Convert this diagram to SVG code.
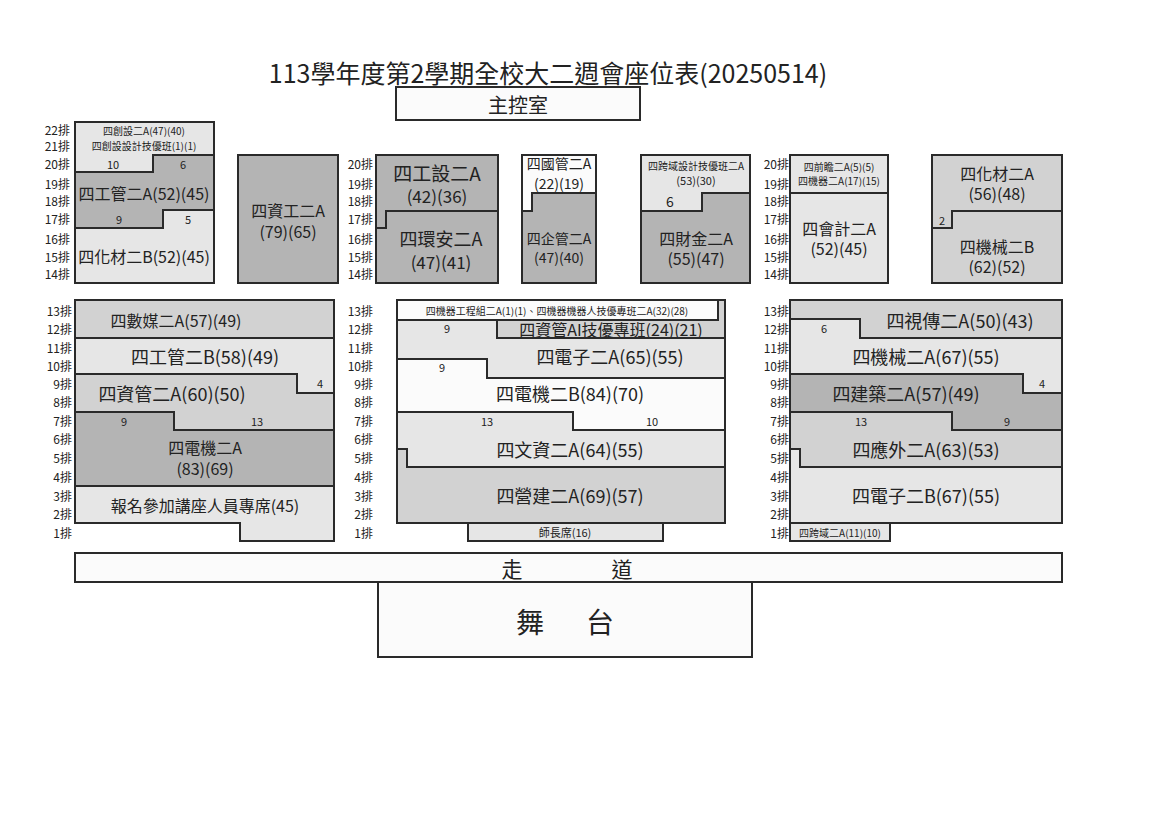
<svg xmlns="http://www.w3.org/2000/svg" width="1160" height="820" viewBox="0 0 1160 820">
<style>
text{font-family:"Noto Sans CJK TC","Noto Sans CJK SC",sans-serif;fill:#222;text-anchor:middle;dominant-baseline:central}
.s{stroke:#2a2a2a;stroke-width:2;stroke-linejoin:miter}
.r{font-size:12px;text-anchor:end}
.b{font-size:16px}
.m{font-size:14px}
.t{font-size:10px}
.n{font-size:11px}
.w{fill:#fbfbfb}.l{fill:#e6e6e6}.g{fill:#d2d2d2}.d{fill:#b4b4b4}
</style>
<rect width="1160" height="820" fill="#fff"/>
<text x="548" y="72" style="font-size:25px">113學年度第2學期全校大二週會座位表(20250514)</text>
<g id="control"><rect x="396" y="87" width="244" height="33" class="s w"/><text x="518" y="104" style="font-size:20px">主控室</text></g>

<g id="rowlabels">
<text class="r" x="70" y="129">22排</text><text class="r" x="70" y="145">21排</text><text class="r" x="70" y="163">20排</text><text class="r" x="70" y="183">19排</text><text class="r" x="70" y="200">18排</text><text class="r" x="70" y="218">17排</text><text class="r" x="70" y="238">16排</text><text class="r" x="70" y="256">15排</text><text class="r" x="70" y="273">14排</text>
<text class="r" x="373" y="163">20排</text><text class="r" x="373" y="183">19排</text><text class="r" x="373" y="200">18排</text><text class="r" x="373" y="218">17排</text><text class="r" x="373" y="238">16排</text><text class="r" x="373" y="256">15排</text><text class="r" x="373" y="273">14排</text>
<text class="r" x="789" y="163">20排</text><text class="r" x="789" y="183">19排</text><text class="r" x="789" y="200">18排</text><text class="r" x="789" y="218">17排</text><text class="r" x="789" y="238">16排</text><text class="r" x="789" y="256">15排</text><text class="r" x="789" y="273">14排</text>
<text class="r" x="72" y="310">13排</text><text class="r" x="72" y="328">12排</text><text class="r" x="72" y="347">11排</text><text class="r" x="72" y="365">10排</text><text class="r" x="72" y="383">9排</text><text class="r" x="72" y="401">8排</text><text class="r" x="72" y="420">7排</text><text class="r" x="72" y="438">6排</text><text class="r" x="72" y="457">5排</text><text class="r" x="72" y="476">4排</text><text class="r" x="72" y="495">3排</text><text class="r" x="72" y="513">2排</text><text class="r" x="72" y="532">1排</text>
<text class="r" x="373" y="310">13排</text><text class="r" x="373" y="328">12排</text><text class="r" x="373" y="347">11排</text><text class="r" x="373" y="365">10排</text><text class="r" x="373" y="383">9排</text><text class="r" x="373" y="401">8排</text><text class="r" x="373" y="420">7排</text><text class="r" x="373" y="438">6排</text><text class="r" x="373" y="457">5排</text><text class="r" x="373" y="476">4排</text><text class="r" x="373" y="495">3排</text><text class="r" x="373" y="513">2排</text><text class="r" x="373" y="532">1排</text>
<text class="r" x="789" y="310">13排</text><text class="r" x="789" y="328">12排</text><text class="r" x="789" y="347">11排</text><text class="r" x="789" y="365">10排</text><text class="r" x="789" y="383">9排</text><text class="r" x="789" y="401">8排</text><text class="r" x="789" y="420">7排</text><text class="r" x="789" y="438">6排</text><text class="r" x="789" y="457">5排</text><text class="r" x="789" y="476">4排</text><text class="r" x="789" y="495">3排</text><text class="r" x="789" y="513">2排</text><text class="r" x="789" y="532">1排</text>
</g>

<!-- top-left -->
<g id="n1"><polygon class="s l" points="75,122 214,122 214,155 153,155 153,172 75,172"/><text class="t" x="144" y="130">四創設二A(47)(40)</text><text class="t" x="144" y="145">四創設設計技優班(1)(1)</text><text class="n" x="113" y="164">10</text></g>
<g id="n2"><polygon class="s d" points="153,155 214,155 214,210 163,210 163,228 75,228 75,172 153,172"/><text class="b" x="144" y="193">四工管二A(52)(45)</text><text class="n" x="183" y="164">6</text><text class="n" x="119" y="219">9</text></g>
<g id="n3"><polygon class="s l" points="75,228 163,228 163,210 214,210 214,283 75,283"/><text class="b" x="144" y="256">四化材二B(52)(45)</text><text class="n" x="188" y="219">5</text></g>
<g id="n4"><rect class="s d" x="238" y="155" width="100" height="128"/><text class="b" x="288" y="210">四資工二A</text><text class="b" x="288" y="231">(79)(65)</text></g>

<g id="n5"><polygon class="s d" points="376,155 498,155 498,211 386,211 386,228 376,228"/><text x="437" y="172" style="font-size:19px">四工設二A</text><text x="437" y="195" style="font-size:17px">(42)(36)</text></g>
<g id="n6"><polygon class="s d" points="376,228 386,228 386,211 498,211 498,283 376,283"/><text x="441" y="238" style="font-size:18px">四環安二A</text><text x="441" y="261" style="font-size:17px">(47)(41)</text></g>
<g id="n7"><polygon class="s w" points="522,155 596,155 596,193 532,193 532,211 522,211"/><text class="m" x="559" y="163">四國管二A</text><text class="m" x="559" y="183">(22)(19)</text></g>
<g id="n8"><polygon class="s d" points="522,211 532,211 532,193 596,193 596,283 522,283"/><text class="m" x="559" y="238">四企管二A</text><text class="m" x="559" y="257">(47)(40)</text></g>
<g id="n9"><polygon class="s l" points="641,155 750,155 750,193 702,193 702,211 641,211"/><text class="t" x="696" y="165">四跨域設計技優班二A</text><text class="n" x="696" y="180">(53)(30)</text><text class="m" x="670" y="201">6</text></g>
<g id="n10"><polygon class="s d" points="641,211 702,211 702,193 750,193 750,283 641,283"/><text class="b" x="696" y="238">四財金二A</text><text class="b" x="696" y="258">(55)(47)</text></g>
<g id="n11"><rect class="s l" x="790" y="155" width="98" height="38"/><text class="t" x="839" y="166">四前瞻二A(5)(5)</text><text class="t" x="839" y="180">四機器二A(17)(15)</text></g>
<g id="n12"><rect class="s l" x="790" y="193" width="98" height="90"/><text class="b" x="839" y="228">四會計二A</text><text class="b" x="839" y="248">(52)(45)</text></g>
<g id="n13"><polygon class="s g" points="932,155 1062,155 1062,211 952,211 952,228 932,228"/><text class="b" x="997" y="173">四化材二A</text><text class="b" x="997" y="193">(56)(48)</text><text class="n" x="942" y="220">2</text></g>
<g id="n14"><polygon class="s g" points="932,228 952,228 952,211 1062,211 1062,283 932,283"/><text class="b" x="997" y="246">四機械二B</text><text class="b" x="997" y="266">(62)(52)</text></g>

<!-- bottom-left -->
<g id="n15"><rect class="s g" x="75" y="300" width="259" height="38"/><text class="b" x="176" y="320">四數媒二A(57)(49)</text></g>
<g id="n16"><polygon class="s l" points="75,338 334,338 334,393 297,393 297,374 75,374"/><text x="205" y="356" style="font-size:18px">四工管二B(58)(49)</text><text class="n" x="320" y="383">4</text></g>
<g id="n17"><polygon class="s g" points="75,374 297,374 297,393 334,393 334,430 174,430 174,412 75,412"/><text x="172" y="393" style="font-size:18px">四資管二A(60)(50)</text><text class="n" x="257" y="421">13</text></g>
<g id="n18"><polygon class="s d" points="75,412 174,412 174,430 334,430 334,486 75,486"/><text class="b" x="205" y="447">四電機二A</text><text class="b" x="205" y="468">(83)(69)</text><text class="n" x="124" y="421">9</text></g>
<g id="n19"><polygon class="s l" points="75,486 334,486 334,541 240,541 240,523 75,523"/><text class="b" x="205" y="505">報名參加講座人員專席(45)</text></g>

<!-- bottom-middle -->
<g id="n20"><polygon class="s g" points="718,300 725,300 725,338 497,338 497,320 718,320"/><text class="b" x="611" y="329">四資管AI技優專班(24)(21)</text></g>
<g id="n21"><rect class="s w" x="397" y="300" width="321" height="20"/><text class="t" x="557" y="310">四機器工程組二A(1)(1)、四機器機器人技優專班二A(32)(28)</text></g>
<g id="n22"><polygon class="s l" points="397,320 497,320 497,338 725,338 725,378 487,378 487,359 397,359"/><text x="610" y="356" style="font-size:18px">四電子二A(65)(55)</text><text class="n" x="447" y="328">9</text></g>
<g id="n23"><polygon class="s w" points="397,359 487,359 487,378 725,378 725,430 573,430 573,412 397,412"/><text x="570" y="393" style="font-size:18px">四電機二B(84)(70)</text><text class="n" x="442" y="367">9</text><text class="n" x="652" y="421">10</text></g>
<g id="n24"><polygon class="s l" points="397,412 573,412 573,430 725,430 725,467 407,467 407,449 397,449"/><text x="570" y="449" style="font-size:18px">四文資二A(64)(55)</text><text class="n" x="487" y="421">13</text></g>
<g id="n25"><polygon class="s g" points="397,449 407,449 407,467 725,467 725,523 397,523"/><text x="570" y="495" style="font-size:18px">四營建二A(69)(57)</text></g>
<g id="n26"><rect class="s l" x="468" y="523" width="195" height="18"/><text class="n" x="565" y="532">師長席(16)</text></g>

<!-- bottom-right -->
<g id="n27"><polygon class="s g" points="790,300 1062,300 1062,338 860,338 860,319 790,319"/><text x="960" y="320" style="font-size:18px">四視傳二A(50)(43)</text></g>
<g id="n28"><polygon class="s l" points="790,319 860,319 860,338 1062,338 1062,393 1023,393 1023,374 790,374"/><text x="926" y="356" style="font-size:18px">四機械二A(67)(55)</text><text class="n" x="824" y="328">6</text><text class="n" x="1042" y="383">4</text></g>
<g id="n29"><polygon class="s d" points="790,374 1023,374 1023,393 1062,393 1062,430 952,430 952,412 790,412"/><text x="906" y="393" style="font-size:18px">四建築二A(57)(49)</text><text class="n" x="1007" y="421">9</text></g>
<g id="n30"><polygon class="s g" points="790,412 952,412 952,430 1062,430 1062,467 800,467 800,449 790,449"/><text x="926" y="449" style="font-size:18px">四應外二A(63)(53)</text><text class="n" x="861" y="421">13</text></g>
<g id="n31"><polygon class="s l" points="790,449 800,449 800,467 1062,467 1062,523 790,523"/><text x="926" y="495" style="font-size:18px">四電子二B(67)(55)</text></g>
<g id="n32"><rect class="s l" x="790" y="523" width="100" height="18"/><text class="t" x="840" y="532">四跨域二A(11)(10)</text></g>

<g id="aisle"><rect class="s w" x="75" y="553" width="987" height="29"/><text x="512" y="568" style="font-size:21px">走</text><text x="622" y="568" style="font-size:21px">道</text></g>
<g id="stage"><rect class="s w" x="378" y="582" width="374" height="75"/><text x="530" y="621" style="font-size:28px">舞</text><text x="600" y="621" style="font-size:28px">台</text></g>
<g id="connectors"/>
</svg>
